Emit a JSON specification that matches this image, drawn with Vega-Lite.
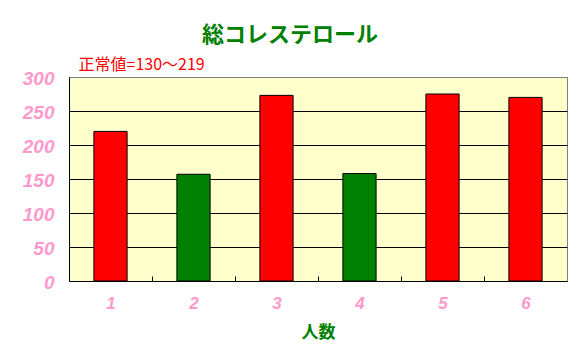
{
  "$schema": "https://vega.github.io/schema/vega-lite/v6.json",
  "width": 498,
  "height": 204,
  "autosize": "none",
  "padding": {"left": 69, "top": 77, "right": 15, "bottom": 80},
  "background": "white",
  "title": {
    "text": "総コレステロール",
    "anchor": "middle",
    "frame": "group",
    "dx": -28,
    "offset": 9,
    "font": "Noto Sans CJK JP",
    "fontSize": 22,
    "fontWeight": "bold",
    "color": "#008000"
  },
  "data": {
    "values": [
      {"人": "1", "値": 220},
      {"人": "2", "値": 157},
      {"人": "3", "値": 273},
      {"人": "4", "値": 158},
      {"人": "5", "値": 275},
      {"人": "6", "値": 270}
    ]
  },
  "mark": {"type": "bar", "stroke": "black", "strokeWidth": 1},
  "encoding": {
    "x": {
      "field": "人",
      "type": "ordinal",
      "scale": {"paddingInner": 0.6, "paddingOuter": 0.3},
      "axis": {
        "title": "人数",
        "titleFont": "Noto Sans CJK JP",
        "titleFontSize": 17,
        "titleFontWeight": "bold",
        "titleColor": "#008000",
        "titlePadding": 13,
        "labelAngle": 0,
        "labelFont": "Liberation Sans",
        "labelFontSize": 17,
        "labelFontStyle": "italic",
        "labelFontWeight": "bold",
        "labelColor": "#FF99CC",
        "labelPadding": 14,
        "labelOffset": 41.5,
        "offset": -5,
        "domain": false,
        "ticks": true,
        "tickSize": 5,
        "tickOffset": -41.5,
        "tickColor": "black",
        "grid": false
      }
    },
    "y": {
      "field": "値",
      "type": "quantitative",
      "scale": {"domain": [0, 300], "nice": false},
      "axis": {
        "values": [0, 50, 100, 150, 200, 250, 300],
        "title": "正常値=130〜219",
        "titleAngle": 0,
        "titleAlign": "left",
        "titleBaseline": "alphabetic",
        "titleX": 9,
        "titleY": -8,
        "titleFont": "Noto Sans CJK JP",
        "titleFontSize": 16,
        "titleFontWeight": "normal",
        "titleColor": "#FF0000",
        "labelFont": "Liberation Sans",
        "labelFontSize": 19,
        "labelFontStyle": "italic",
        "labelFontWeight": "bold",
        "labelColor": "#FF99CC",
        "labelPadding": 15,
        "labelBaseline": "middle",
        "labelOffset": 1,
        "ticks": false,
        "domainColor": "black",
        "grid": true,
        "gridColor": {"condition": {"test": "datum.value === 300", "value": "#808080"}, "value": "black"},
        "gridOpacity": 1
      }
    },
    "color": {
      "condition": {"test": "datum['値'] > 219", "value": "#FF0000"},
      "value": "#008000"
    }
  },
  "config": {
    "view": {"fill": "#FFFFCC", "stroke": "#808080"},
    "bar": {"opacity": 1}
  }
}
